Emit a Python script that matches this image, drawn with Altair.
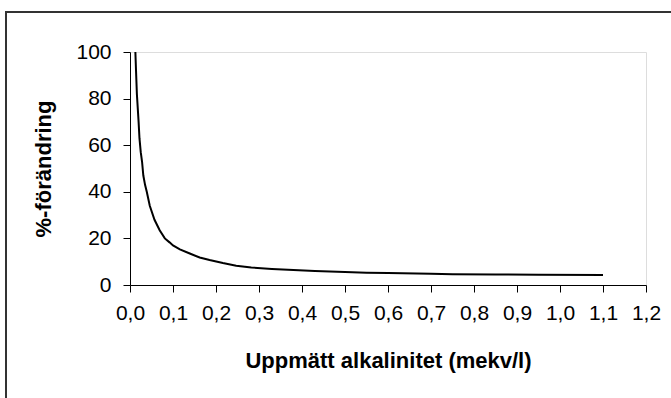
import altair as alt
import pandas as pd

# Values
alk = [0.0125, 0.014, 0.016, 0.018, 0.020, 0.022, 0.025, 0.028, 0.031, 0.035,
       0.039, 0.046, 0.057, 0.069, 0.081, 0.092, 0.100, 0.116, 0.139, 0.162,
       0.185, 0.216, 0.247, 0.282, 0.330, 0.380, 0.430, 0.500, 0.550, 0.600,
       0.700, 0.750, 0.850, 0.950, 1.100]
pct = [100, 92, 82, 76, 70, 63, 57, 53, 47, 43,
       40, 34, 28, 23.5, 20, 18.3, 17, 15.3, 13.5, 11.8,
       10.7, 9.4, 8.3, 7.5, 6.9, 6.4, 6.0, 5.6, 5.3, 5.1,
       4.8, 4.6, 4.5, 4.4, 4.3]

x_ticks = [0.0, 0.1, 0.2, 0.3, 0.4, 0.5, 0.6, 0.7, 0.8, 0.9, 1.0, 1.1, 1.2]
y_ticks = [0, 20, 40, 60, 80, 100]
x_title = "Uppmätt alkalinitet (mekv/l)"
y_title = "%-förändring"

df = pd.DataFrame({"alk": alk, "pct": pct})

FONT = "Liberation Sans"

line = alt.Chart(df).mark_line(color="black", strokeWidth=2).encode(
    x=alt.X("alk:Q",
            scale=alt.Scale(domain=[0, 1.2], nice=False, zero=False),
            axis=alt.Axis(values=x_ticks, title=x_title,
                          labelExpr="replace(format(datum.value, '.1f'), '.', ',')",
                          grid=False, domainColor="black", tickColor="black",
                          tickSize=7, labelPadding=10, labelFontSize=21,
                          labelFont=FONT, labelColor="black",
                          titleFont=FONT, titleFontSize=22, titleFontWeight="bold",
                          titleColor="black", titlePadding=27, labelFlush=False)),
    y=alt.Y("pct:Q",
            scale=alt.Scale(domain=[0, 100], nice=False),
            axis=alt.Axis(values=y_ticks, title=y_title,
                          grid=False, domainColor="black", tickColor="black",
                          tickSize=7, labelPadding=12, labelFontSize=21,
                          labelFont=FONT, labelColor="black",
                          titleFont=FONT, titleFontSize=22, titleFontWeight="bold",
                          titleColor="black", titlePadding=20, labelFlush=False)),
)

frame = alt.Chart(df).mark_rect(fill="transparent", stroke="#333333",
                                strokeWidth=2).encode(
    x=alt.value(-124), x2=alt.value(580),
    y=alt.value(-40), y2=alt.value(380),
)

chart = alt.layer(frame, line).properties(
    width=516, height=233,
    autosize=alt.AutoSizeParams(type="none"),
    padding={"left": 130, "top": 52, "right": 25, "bottom": 113},
).configure_view(stroke=None).configure(background="white")

chart.save("out.html", embed_options={"renderer": "svg", "actions": False})
